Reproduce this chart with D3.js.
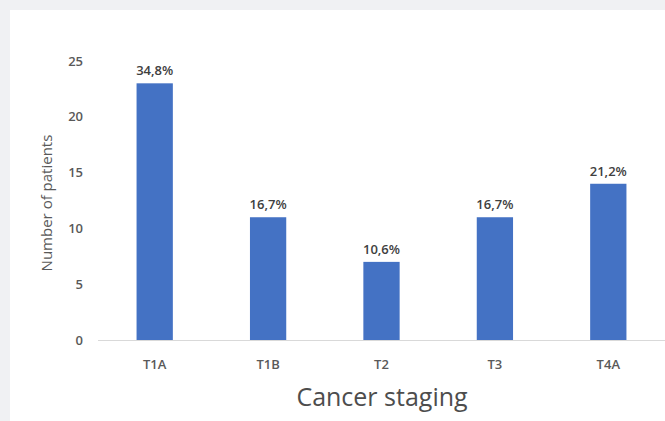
<!DOCTYPE html>
<html>
<head>
<meta charset="utf-8">
<script src="https://cdn.jsdelivr.net/npm/d3@7"></script>
<style>
  body { margin: 0; background: #f0f1f3; }
  svg { display: block; }
</style>
</head>
<body>
<script>
// chart values
var stages = ["T1A", "T1B", "T2", "T3", "T4A"];
var patients = [23, 11, 7, 11, 14];
var percents = ["34,8%", "16,7%", "10,6%", "16,7%", "21,2%"];
var yTicks = [0, 5, 10, 15, 20, 25];

var width = 665, height = 421;
var font = "'Open Sans', 'Liberation Sans', sans-serif";

var svg = d3.select("body").append("svg")
    .attr("width", width)
    .attr("height", height);

// white panel
svg.append("rect")
    .attr("x", 10).attr("y", 10)
    .attr("width", width - 10).attr("height", height - 10)
    .attr("fill", "#ffffff");

var x = d3.scaleBand()
    .domain(stages)
    .range([98, 665])
    .paddingInner(0.68)
    .paddingOuter(0.34);

var y = d3.scaleLinear()
    .domain([0, 25])
    .range([340, 61]);

// y tick labels (no axis line)
svg.selectAll(".ytick")
    .data(yTicks)
    .enter().append("text")
    .attr("class", "ytick")
    .attr("x", 83)
    .attr("y", function(d) { return y(d); })
    .attr("dy", "0.35em")
    .attr("text-anchor", "end")
    .attr("font-family", font)
    .attr("font-size", "13px")
    .attr("font-weight", 600)
    .attr("fill", "#595959")
    .text(function(d) { return d; });

var data = stages.map(function(s, i) {
    return { stage: s, value: patients[i], pct: percents[i] };
});

svg.selectAll(".bar")
    .data(data)
    .enter().append("rect")
    .attr("class", "bar")
    .attr("x", function(d) { return x(d.stage); })
    .attr("y", function(d) { return y(d.value); })
    .attr("width", x.bandwidth())
    .attr("height", function(d) { return y(0) - y(d.value); })
    .attr("fill", "#4472c4");

// baseline
svg.append("line")
    .attr("x1", 98).attr("x2", 665)
    .attr("y1", y(0) + 0.5).attr("y2", y(0) + 0.5)
    .attr("stroke", "#d9d9d9")
    .attr("stroke-width", 1);

// data labels
svg.selectAll(".lbl")
    .data(data)
    .enter().append("text")
    .attr("class", "lbl")
    .attr("x", function(d) { return x(d.stage) + x.bandwidth() / 2; })
    .attr("y", function(d) { return y(d.value) - 8; })
    .attr("text-anchor", "middle")
    .attr("font-family", font)
    .attr("font-size", "13px")
    .attr("font-weight", 600)
    .attr("fill", "#404040")
    .text(function(d) { return d.pct; });

// category labels
svg.selectAll(".cat")
    .data(stages)
    .enter().append("text")
    .attr("class", "cat")
    .attr("x", function(d) { return x(d) + x.bandwidth() / 2; })
    .attr("y", 369)
    .attr("text-anchor", "middle")
    .attr("font-family", font)
    .attr("font-size", "13px")
    .attr("font-weight", 600)
    .attr("fill", "#595959")
    .text(function(d) { return d; });

// axis titles
svg.append("text")
    .attr("transform", "translate(52,203) rotate(-90)")
    .attr("text-anchor", "middle")
    .attr("font-family", font)
    .attr("font-size", "15px")
    .attr("fill", "#595959")
    .text("Number of patients");

svg.append("text")
    .attr("x", 382)
    .attr("y", 406)
    .attr("text-anchor", "middle")
    .attr("font-family", font)
    .attr("font-size", "25px")
    .attr("fill", "#4d4d4d")
    .text("Cancer staging");
</script>
</body>
</html>
